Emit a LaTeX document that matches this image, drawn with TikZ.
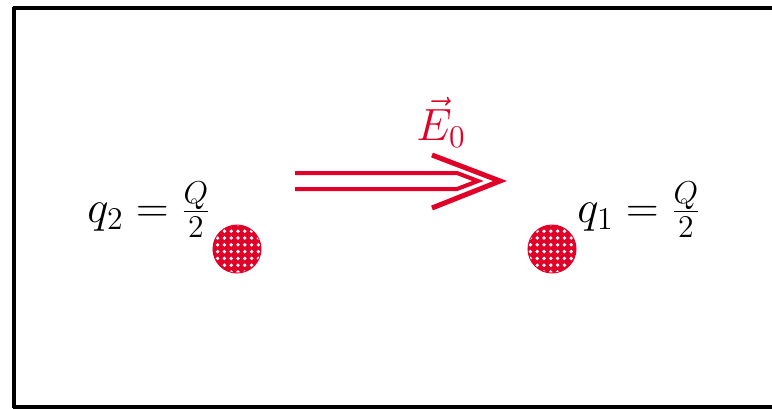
\RequirePackage{fix-cm}
\documentclass[tikz,border=0pt]{standalone}
\usetikzlibrary{calc,patterns.meta}

\definecolor{chargered}{RGB}{224,0,40}

\begin{document}
\begin{tikzpicture}[
  x=0.5pt, y=-0.5pt,
  font=\fontsize{22.6}{27}\selectfont,
  charge/.style={circle, minimum size=23.5pt, inner sep=0pt, fill=chargered, draw=chargered, line width=1pt,
    postaction={pattern={Dots[distance=3.4pt, radius=0.95pt]}, pattern color=white}},
  fieldline/.style={draw=chargered, line width=2pt, line join=miter, miter limit=20},
  frame/.style={draw=black, line width=2pt}
]
\useasboundingbox (0,0) rectangle (772,408);

% frame, cut off at right and bottom
\draw[frame] (13,8) -- (772,8);
\draw[frame] (14,7) -- (14,408);
\draw[frame] (13,407) -- (772,407);

% charges
\node[charge] (q2) at (237,249) {};
\node[charge] (q1) at (552,249) {};
\node (q2lab) at (149,210) {$q_2=\frac{Q}{2}$};
\node (q1lab) at (639,210) {$q_1=\frac{Q}{2}$};

% field, double shaft and open tip
\coordinate (fstart) at (295,181);
\coordinate (fend) at (500,181);
\draw[fieldline] ($(fstart)+(0,-8)$) -- ($(fend)+(-43,-8)$) -- ($(fend)+(-22,0)$)
  -- ($(fend)+(-43,8)$) -- ($(fstart)+(0,8)$);
\draw[fieldline, line width=2.5pt] ($(fend)+(-68,-26)$) -- (fend) -- ($(fend)+(-68,27)$);
\node[text=chargered] (elab) at (441,122) {$\vec{E}_0$};

\end{tikzpicture}
\end{document}
